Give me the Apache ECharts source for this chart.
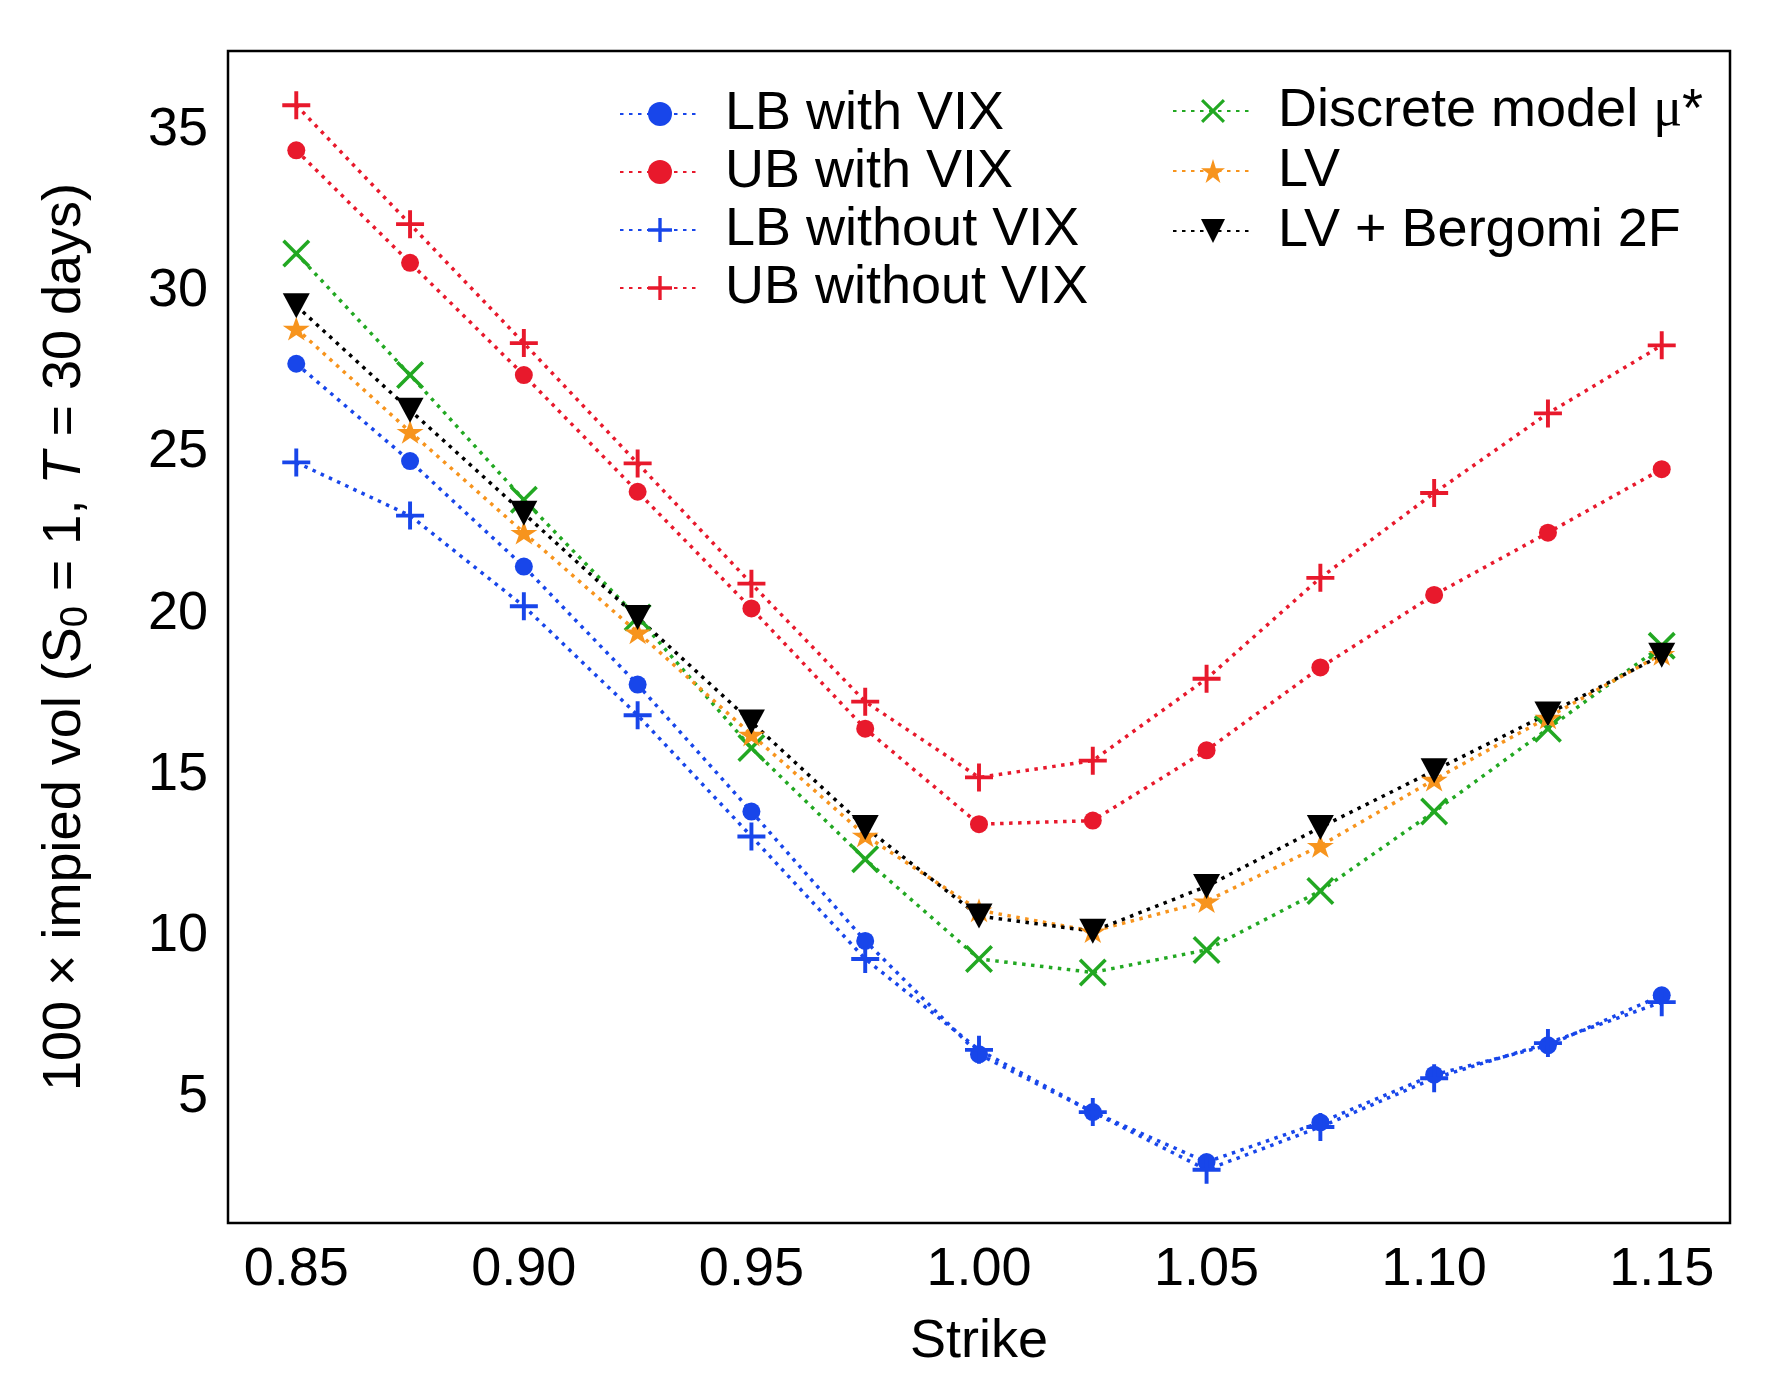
<!DOCTYPE html>
<html><head><meta charset="utf-8">
<script src="https://cdn.jsdelivr.net/npm/echarts@6/dist/echarts.min.js"></script>
<style>html,body{margin:0;padding:0;background:#fff}#c{width:1779px;height:1398px}</style>
</head><body><div id="c"></div>
<script>
const strikes = [0.85, 0.875, 0.90, 0.925, 0.95, 0.975, 1.00, 1.025, 1.05, 1.075, 1.10, 1.125, 1.15];
const lbWithVix    = [27.75, 24.73, 21.46, 17.80, 13.86, 9.85, 6.33, 4.54, 2.99, 4.22, 5.70, 6.61, 8.16];
const ubWithVix    = [34.37, 30.88, 27.40, 23.78, 20.16, 16.43, 13.47, 13.58, 15.76, 18.33, 20.58, 22.51, 24.48];
const lbWithoutVix = [24.69, 23.04, 20.23, 16.85, 13.09, 9.29, 6.47, 4.54, 2.75, 4.08, 5.59, 6.68, 7.95];
const ubWithoutVix = [35.77, 32.08, 28.39, 24.66, 20.93, 17.27, 14.92, 15.44, 17.98, 21.11, 23.74, 26.21, 28.32];
const discreteMu   = [31.17, 27.40, 23.53, 19.88, 15.83, 12.38, 9.29, 8.87, 9.57, 11.40, 13.86, 16.43, 19.00];
const lvValues     = [28.84, 25.64, 22.51, 19.42, 16.25, 13.12, 10.80, 10.15, 11.08, 12.80, 14.85, 16.78, 18.75];
const lvBergomi    = [29.55, 26.31, 23.11, 19.88, 16.64, 13.37, 10.62, 10.15, 11.54, 13.37, 15.13, 16.89, 18.71];
const xTickLabels = ['0.85', '0.90', '0.95', '1.00', '1.05', '1.10', '1.15'];
const yTickLabels = ['5', '10', '15', '20', '25', '30', '35'];
const seriesNames = ['LB with VIX', 'UB with VIX', 'LB without VIX', 'UB without VIX', 'Discrete model μ*', 'LV', 'LV + Bergomi 2F'];

const FONT = "'Liberation Sans', Arial, Helvetica, sans-serif";
const BLUE = '#1846ea', RED = '#e8192c', GREEN = '#22a822', ORANGE = '#f7941d', BLACK = '#000000';
const PLUS = 'path://M0,43 L100,43 L100,57 L0,57 Z M43,0 L57,0 L57,100 L43,100 Z';
const XMARK = 'path://M0,9 L9,0 L50,41 L91,0 L100,9 L59,50 L100,91 L91,100 L50,59 L9,100 L0,91 L41,50 Z';
const STAR = 'path://M50,0 L61.23,34.55 L97.55,34.55 L68.17,55.9 L79.39,90.45 L50,69.1 L20.61,90.45 L31.83,55.9 L2.45,34.55 L38.77,34.55 Z';

function pairs(vals) { return strikes.map((s, i) => [s, vals[i]]); }
function mk(name, vals, color, symbol, size, extra) {
  return Object.assign({
    name: name, type: 'line', data: pairs(vals),
    symbol: symbol, symbolSize: size,
    lineStyle: { color: color, width: 3.5, type: [3.5, 5.5] },
    itemStyle: { color: color },
    z: 2, animation: false
  }, extra || {});
}

const chart = echarts.init(document.getElementById('c'), null, { renderer: 'canvas' });
chart.setOption({
  backgroundColor: '#ffffff',
  animation: false,
  grid: { left: 228, right: 49, top: 51, bottom: 175, show: true, borderColor: '#000', borderWidth: 2.5, backgroundColor: 'transparent' },
  xAxis: {
    type: 'value', min: 0.835, max: 1.165, interval: 0.005,
    name: 'Strike', nameLocation: 'middle', nameGap: 92,
    nameTextStyle: { fontSize: 54, color: '#000', fontFamily: FONT },
    axisLine: { show: false }, axisTick: { show: false }, splitLine: { show: false },
    axisLabel: {
      interval: 0, margin: 20, fontSize: 54, color: '#000', fontFamily: FONT,
      formatter: function (v) {
        if (Math.abs(v * 20 - Math.round(v * 20)) > 1e-6) return '';
        const s = v.toFixed(2);
        return xTickLabels.indexOf(s) >= 0 ? s : '';
      }
    }
  },
  yAxis: {
    type: 'value', min: 1.1, max: 37.45, interval: 0.05,
    name: '100 × impied vol (S{sub|0} = 1, {it|T} = 30 days)', nameLocation: 'middle', nameGap: 132,
    nameTextStyle: {
      fontSize: 54, color: '#000', fontFamily: FONT,
      rich: {
        sub: { fontSize: 38, fontFamily: FONT, color: '#000', verticalAlign: 'bottom', padding: [24, 0, 0, 0] },
        it: { fontSize: 54, fontFamily: FONT, color: '#000', fontStyle: 'italic' }
      }
    },
    axisLine: { show: false }, axisTick: { show: false }, splitLine: { show: false },
    axisLabel: {
      interval: 0, margin: 20, fontSize: 54, color: '#000', fontFamily: FONT,
      formatter: function (v) {
        if (Math.abs(v / 5 - Math.round(v / 5)) > 1e-6) return '';
        const s = String(Math.round(v));
        return yTickLabels.indexOf(s) >= 0 ? s : '';
      }
    }
  },
  legend: [
    {
      data: seriesNames.slice(0, 4), orient: 'vertical', left: 614, top: 80,
      itemWidth: 80, itemHeight: 30, itemGap: 0, padding: 5,
      textStyle: { fontSize: 54, lineHeight: 58, color: '#000', fontFamily: FONT, padding: [0, 0, 0, 20] }
    },
    {
      data: seriesNames.slice(4), orient: 'vertical', left: 1167, top: 77,
      itemWidth: 80, itemHeight: 30, itemGap: 2, padding: 5,
      formatter: function (n) { return n === 'Discrete model μ*' ? 'Discrete model {mu|μ}*' : n; },
      textStyle: { fontSize: 54, lineHeight: 58, color: '#000', fontFamily: FONT, padding: [0, 0, 0, 20],
        rich: { mu: { fontSize: 54, fontFamily: "'Liberation Serif', 'DejaVu Serif', serif", color: '#000' } } }
    }
  ],
  series: [
    mk(seriesNames[0], lbWithVix, BLUE, 'circle', 18),
    mk(seriesNames[1], ubWithVix, RED, 'circle', 18),
    mk(seriesNames[2], lbWithoutVix, BLUE, PLUS, 28),
    mk(seriesNames[3], ubWithoutVix, RED, PLUS, 28),
    mk(seriesNames[4], discreteMu, GREEN, XMARK, 28),
    mk(seriesNames[5], lvValues, ORANGE, STAR, [27, 25], { symbolKeepAspect: true }),
    mk(seriesNames[6], lvBergomi, BLACK, 'triangle', [27, 25], { symbolRotate: 180 })
  ]
});
</script></body></html>
